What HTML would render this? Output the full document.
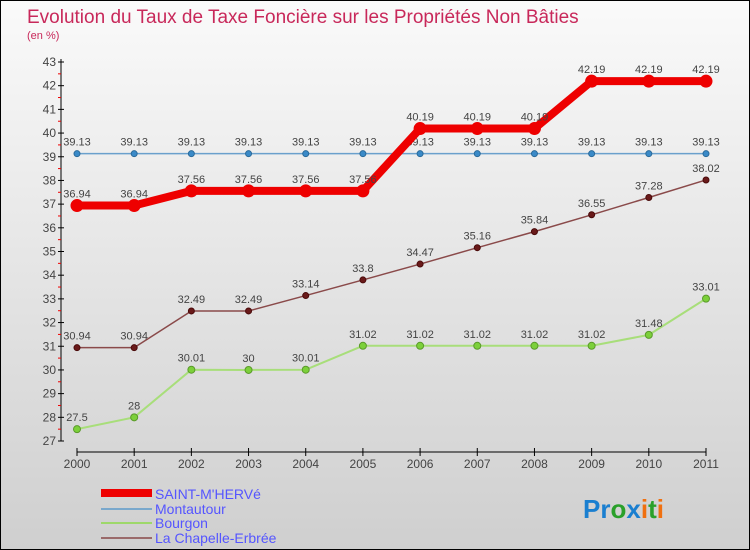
<!DOCTYPE html>
<html><head><meta charset="utf-8"><style>
body{margin:0}
#c{width:748px;height:548px;border:1px solid #000;background:linear-gradient(#fafafa,#cfcfcf);position:relative;overflow:hidden;font-family:"Liberation Sans",sans-serif}
</style></head><body>
<div id="c">
<svg id="s" width="748" height="548" xmlns="http://www.w3.org/2000/svg" style="position:absolute;left:0;top:0">
<text x="26" y="22" font-size="19" fill="#c8285a">Evolution du Taux de Taxe Foncière sur les Propriétés Non Bâties</text>
<text x="26" y="38" font-size="11" fill="#c8285a">(en %)</text>
<g id="axes"></g><g id="series"></g>
<g>
<rect x="100" y="488" width="51" height="8" fill="#e00"/>
<text x="154" y="498" font-size="14" fill="#55f">SAINT-M'HERVé</text>
<rect x="100" y="507" width="51" height="2" fill="#7aa8cc"/>
<text x="154" y="513" font-size="14" fill="#55f">Montautour</text>
<rect x="100" y="521" width="51" height="2" fill="#9ed86a"/>
<text x="154" y="527" font-size="14" fill="#55f">Bourgon</text>
<rect x="100" y="536" width="51" height="2" fill="#9a6a6a"/>
<text x="154" y="542" font-size="14" fill="#55f">La Chapelle-Erbrée</text>
</g>
<text x="582" y="517" font-size="26" font-weight="bold"><tspan fill="#1a7fd0">Pr</tspan><tspan fill="#2aa02a">o</tspan><tspan fill="#1a7fd0">x</tspan><tspan fill="#f07010">i</tspan><tspan fill="#2aa02a">t</tspan><tspan fill="#f07010">i</tspan></text>
</svg>
</div>
<script>
const years=["2000","2001","2002","2003","2004","2005","2006","2007","2008","2009","2010","2011"];
const yTicks=[27,28,29,30,31,32,33,34,35,36,37,38,39,40,41,42,43];
const saint=[36.94,36.94,37.56,37.56,37.56,37.56,40.19,40.19,40.19,42.19,42.19,42.19];
const montautour=[39.13,39.13,39.13,39.13,39.13,39.13,39.13,39.13,39.13,39.13,39.13,39.13];
const bourgon=[27.5,28,30.01,30,30.01,31.02,31.02,31.02,31.02,31.02,31.48,33.01];
const chapelle=[30.94,30.94,32.49,32.49,33.14,33.8,34.47,35.16,35.84,36.55,37.28,38.02];
const NS="http://www.w3.org/2000/svg";
const X=i=>76+i*(629/11);
const Y=v=>61+(43-v)*(379/16);
function mk(t,a,p){const e=document.createElementNS(NS,t);for(const k in a)e.setAttribute(k,a[k]);p.appendChild(e);return e;}
const ax=document.getElementById('axes');
let l=mk('line',{x1:60,y1:58,x2:60,y2:440,stroke:'#000'},ax);


yTicks.forEach(v=>{
 mk('line',{x1:57,x2:63,y1:Y(v),y2:Y(v),stroke:'#000'},ax);
 if(v<43)mk('line',{x1:57,x2:60,y1:Y(v+0.5),y2:Y(v+0.5),stroke:'#e00'},ax);
 const t=mk('text',{x:55,y:Y(v)+4,'font-size':12,fill:'#444','text-anchor':'end'},ax);t.textContent=v;
 
 
});
l=mk('line',{x1:76,y1:451,x2:705,y2:451,stroke:'#000'},ax);


years.forEach((y,i)=>{
 mk('line',{x1:X(i),x2:X(i),y1:447,y2:455,stroke:'#000'},ax);
 const t=mk('text',{x:X(i),y:467,'font-size':12,fill:'#444','text-anchor':'middle'},ax);t.textContent=y;
 
 
});
const sg=document.getElementById('series');
function series(d,name,col,w,r,dot,dotStroke){
 const g=mk('g',{},sg);
 
 
 const p=mk('polyline',{points:d.map((v,i)=>X(i)+','+Y(v)).join(' '),fill:'none',stroke:col,'stroke-width':w,'stroke-linejoin':'round'},g);
 
 
 d.forEach((v,i)=>{
  const c=mk('circle',{cx:X(i),cy:Y(v),r:r,fill:dot,stroke:dotStroke,'stroke-width':1},g);
  
  
  const t=mk('text',{x:X(i),y:Y(v)-8,'font-size':11,fill:'#444','text-anchor':'middle'},g);
  t.textContent=String(v);
  
  
 });
}
series(bourgon,'bourgon','#a8de7a',2,3.5,'#7cd03a','#5a9a2a');
series(chapelle,'la-chapelle-erbree','#8a4a4a',1.5,3,'#6a1a1a','#4a0a0a');
series(montautour,'montautour','#6aa0cc',1.5,3,'#3a8ac8','#2a6a9a');
series(saint,'saint-m-herve','#ee0000',8,6,'#ee0000','#ee0000');
</script>
</body></html>
